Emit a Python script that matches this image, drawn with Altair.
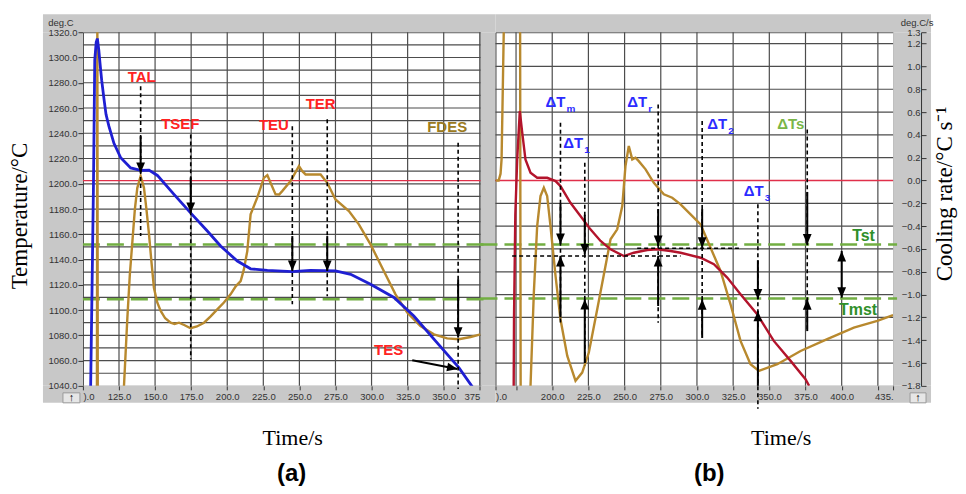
import altair as alt
import pandas as pd

# ---------------- data: panel (a) ----------------
a_temp_t = [105.3, 106.6, 107.3, 108.2, 109.2, 110.0, 111.0, 111.8, 113.0, 114.6, 116.0, 118.0,
            121.5, 126.2, 133.1, 140.0, 145.8, 151.6, 163.1, 174.6, 186.2, 195.4, 207.0, 216.2,
            227.8, 245.0, 257.7, 275.0, 285.5, 299.3, 315.5, 329.3, 345.5, 360.5, 370.0]
a_temp_v = [1035, 1140, 1198, 1298, 1312, 1315, 1306, 1296, 1282, 1267, 1255, 1245.6,
            1232, 1220.6, 1212.6, 1210.6, 1210.8, 1206.6, 1191.6, 1177, 1162.6, 1150.7, 1138.8, 1132.7,
            1131.5, 1130.4, 1131.5, 1131, 1128.3, 1120.4, 1110, 1095.3, 1074, 1054.4, 1039]

a_rate_t = [109.7, 110.0, 110.3, 127.9, 128.5, 130.8, 132.5, 134.3, 136.0, 137.7, 140.0, 142.3,
            144.0, 145.8, 147.5, 149.2, 151.5, 153.9, 157.0, 160.8, 163.5, 166.6, 170.5, 174.6,
            179.0, 183.9, 188.5, 193.1, 197.7, 202.3, 206.0, 209.3, 211.5, 213.9, 216.2, 220.8,
            225.4, 227.8, 230.0, 233.5, 236.0, 238.1, 243.9, 249.7, 252.0, 254.3, 260.0, 264.7,
            269.3, 275.0, 284.3, 291.2, 299.3, 308.5, 316.6, 324.7, 333.9, 343.2, 352.4, 360.5,
            368.6, 375.5]
a_rate_v = [1030, 1330, 1030, 1030, 1041, 1094, 1128, 1154.6, 1180, 1196.8, 1206, 1196.8,
            1180, 1160, 1138, 1117.7, 1106, 1099.3, 1093.5, 1090, 1089, 1090, 1088, 1085.6,
            1087, 1090, 1095, 1100.6, 1106, 1112.5, 1119, 1123, 1132, 1146.7, 1175.8, 1189,
            1204.7, 1206.9, 1200.8, 1191.6, 1191.5, 1194.2, 1202.1, 1214, 1210, 1207.4, 1207.4, 1207.4,
            1200.8, 1187.6, 1178.4, 1167.9, 1152, 1131, 1112.5, 1098, 1087.4, 1080.8, 1077.6, 1076.9,
            1078.7, 1080.8]

a_xticks = [100, 125, 150, 175, 200, 225, 250, 275, 300, 325, 350, 375]
a_yticks = [1040, 1060, 1080, 1100, 1120, 1140, 1160, 1180, 1200, 1220, 1240, 1260, 1280, 1300, 1320]
a_xgrid = [125, 150, 175, 200, 225, 250, 275, 300, 325, 350, 375]
a_ygrid = [1050, 1060, 1070, 1080, 1090, 1100, 1110, 1120, 1130, 1140, 1150, 1160, 1170, 1180,
           1190, 1200, 1210, 1220, 1230, 1240, 1250, 1260, 1270, 1280, 1290, 1300, 1310]
a_red_level = [1202.5]
a_green_levels = [1152, 1108.5]

a_labels = ["TAL", "TSEF", "TEU", "TER", "TES"]
a_label_t = [140.7, 167.5, 232.3, 264.7, 311.8]
a_label_v = [1284.4, 1247.5, 1246.4, 1263.3, 1068.4]
a_fdes_label = ["FDES"]
a_fdes_t = [352.4]
a_fdes_v = [1244.8]

a_mark_t = [140.0, 174.7, 245.1, 269.3, 360.0]
a_dash_top = [1277.3, 1239.1, 1245.6, 1251.0, 1232.4]
a_dash_bot = [1158.6, 1061.1, 1104.6, 1111.0, 1037.6]
a_arrow_from = [1237.7, 1205.0, 1158.6, 1158.6, 1124.3]
a_arrow_to = [1208.7, 1177.0, 1131.0, 1131.0, 1078.2]
a_tes_t = [328.2]
a_tes_t2 = [359.5]
a_tes_v = [1060.3]
a_tes_v2 = [1053.4]

# ---------------- data: panel (b) ----------------
b_rate1_t = [160.9, 163.0, 164.3, 165.0, 165.8, 166.5, 167.0, 177.8, 178.2, 184.6, 185.0, 187.3,
             189.6, 191.9, 194.2, 196.5, 198.8, 202.3, 205.7, 210.4, 216.1, 220.7, 225.3, 231.1,
             236.8, 240.3, 244.9, 248.4, 250.6, 252.9, 255.3, 257.5, 259.8, 264.5, 270.2, 277.1,
             282.9, 288.7, 295.6, 302.5, 309.4, 316.3, 323.2, 330.1, 337.0, 342.8, 355.5, 371.6,
             390.0, 408.4, 424.6, 435.5]
b_rate1_v = [0.0, 0.0, 0.06, 0.185, 0.768, 1.3, 1.5, 1.5, -2.0, -2.0, -1.8, -0.983,
             -0.399, -0.136, -0.063, -0.136, -0.399, -0.837, -1.216, -1.537, -1.756, -1.684, -1.508, -1.128,
             -0.749, -0.515, -0.428, -0.224, 0.127, 0.302, 0.185, 0.2, 0.17, 0.098, -0.02, -0.121,
             -0.151, -0.209, -0.297, -0.384, -0.589, -0.793, -1.085, -1.406, -1.61, -1.669, -1.61, -1.494,
             -1.391, -1.289, -1.231, -1.181]

b_rate2_t = [173.3, 173.6, 174.5, 175.8, 177.6, 179.3, 181.5, 185.0, 189.6, 196.5, 202.3, 205.7,
             212.6, 219.5, 226.4, 233.4, 240.3, 249.5, 256.4, 265.6, 272.5, 281.7, 288.7, 302.5,
             311.7, 320.9, 330.1, 341.6, 353.1, 364.7, 375.0, 377.5]
b_rate2_v = [-2.0, -1.2, -0.3, 0.185, 0.608, 0.418, 0.185, 0.068, 0.024, 0.024, -0.005, -0.049,
             -0.195, -0.311, -0.428, -0.53, -0.603, -0.662, -0.633, -0.609, -0.603, -0.618, -0.633, -0.677,
             -0.734, -0.851, -0.997, -1.172, -1.406, -1.581, -1.741, -1.8]

b_xticks = [160.8, 175, 200, 225, 250, 275, 300, 325, 350, 375, 400, 425, 435.5]
b_yticks = [1.3, 1.2, 1.0, 0.8, 0.6, 0.4, 0.2, 0.0, -0.2, -0.4, -0.6, -0.8, -1.0, -1.2, -1.4, -1.6, -1.8]
b_xgrid = [175, 200, 225, 250, 275, 300, 325, 350, 375, 400, 425]
b_ygrid = [1.2, 1.0, 0.8, 0.6, 0.4, 0.2, 0.0, -0.2, -0.4, -0.6, -0.8, -1.0, -1.2, -1.4, -1.6]
b_red_level = [0.0]
b_green_levels = [-0.56, -1.035]

b_delta_main = ["ΔT", "ΔT", "ΔT", "ΔT", "ΔT"]
b_delta_sub = ["m", "1", "r", "2", "3"]
b_delta_t = [195.4, 207.6, 251.8, 307.1, 332.4]
b_delta_v = [0.687, 0.331, 0.687, 0.492, -0.092]
b_dts_label = ["ΔTs"]
b_dts_t = [355.5]
b_dts_v = [0.492]
b_green_labels = ["Tst", "Tmst"]
b_green_label_t = [415.1, 411.3]
b_green_label_v = [-0.486, -1.135]

b_mark_t = [205.7, 222.5, 273.2, 303.6, 342.1, 376.2]
b_dash_top = [0.506, 0.155, 0.667, 0.521, -0.209, 0.448]
b_dash_bot = [-1.26, -1.625, -1.246, -1.377, -2.0, -1.318]
b_down_from = [-0.2, -0.3, -0.25, -0.25, -0.7, -0.1]
b_down_to = [-0.556, -0.647, -0.574, -0.589, -1.041, -0.559]
b_up_from = [-1.2, -1.6, -1.1, -1.38, -1.8, -1.32]
b_up_to = [-0.662, -1.04, -0.662, -1.041, -1.143, -1.041]
b_hdash_t = [172.3, 258.7]
b_hdash_t2 = [288.7, 329.0]
b_hdash_v = [-0.662, -0.594]
b_double_t = [400.0]
b_double_top = [-0.618]
b_double_bot = [-1.027]

# ---------------- styles ----------------
W, H = 398, 354
FRAME = "#c8c8c8"
GRID = "#4d4d4d"
BLUE = "#1f1fd2"
BROWN = "#b8892e"
DARKRED = "#b3142c"
REDLINE = "#e0304a"
GREEN = "#72ae42"
LAB_RED = "#ff2222"
LAB_BLUE = "#2b2bff"
SANS = "Liberation Sans"
SERIF = "Liberation Serif"
DOWN = "M0,0L-1.1,-2.6L1.1,-2.6Z"
UP = "M0,0L-1.1,2.6L1.1,2.6Z"
RIGHT = "M0,0L-2.6,-1.1L-2.6,1.1Z"
GDASH = [17, 7]


def one():
    return pd.DataFrame({"k": [0]})


def box(x, x2, y, y2, fill=FRAME, stroke=None):
    kw = dict(fill=fill, strokeWidth=0)
    if stroke:
        kw = dict(fill=fill, stroke=stroke, strokeWidth=1)
    return alt.Chart(one()).mark_rect(**kw).encode(
        x=alt.value(x), x2=alt.value(x2), y=alt.value(y), y2=alt.value(y2))


def label(text, x, y, size, color="black", font=SERIF, weight="normal", angle=0):
    return alt.Chart(one()).mark_text(
        text=text, fontSize=size, color=color, font=font, fontWeight=weight,
        angle=angle, align="center", baseline="middle").encode(x=alt.value(x), y=alt.value(y))


def panel(sx, sy, xaxis, yaxis):
    def X(f):
        return alt.X(f + ":Q", scale=sx, axis=xaxis)

    def Y(f):
        return alt.Y(f + ":Q", scale=sy, axis=yaxis)
    return X, Y


# ---------------- panel (a) ----------------
ax_a = alt.Axis(values=a_xticks, labelFlush=2, grid=False, domain=False, tickSize=4, tickColor="#333",
                labelFontSize=9.5, labelFont=SANS, labelColor="#333", labelPadding=2, title=None, zindex=1,
                labelExpr="datum.value == 100 ? ').0' : (datum.value == 375 ? '375' : format(datum.value, '.1f'))")
ay_a = alt.Axis(values=a_yticks, format=".1f", grid=False, domain=False, tickSize=5, tickColor="#333",
                labelFontSize=9.5, labelFont=SANS, labelColor="#333", labelPadding=1, labelFlush=False,
                title=None, zindex=1)
Xa, Ya = panel(alt.Scale(domain=[100, 375.5], nice=False, zero=False),
               alt.Scale(domain=[1040, 1320], nice=False, zero=False), ax_a, ay_a)

a_layers = [
    box(-40, 413, -18, 0), box(-40, 413, H, 371), box(-40, 0, 0, H), box(W, 413, 0, H),
    box(-20, -3, H + 7, H + 17, fill="#e6e6e6", stroke="#9a9a9a"),
    label("↑", -11.5, H + 12, 11, font=SANS, weight="bold"),
    alt.Chart(pd.DataFrame({"t": a_xgrid})).mark_rule(color=GRID, strokeWidth=1.2).encode(x=Xa("t")),
    alt.Chart(pd.DataFrame({"v": a_ygrid})).mark_rule(color=GRID, strokeWidth=1.2).encode(y=Ya("v")),
    alt.Chart(pd.DataFrame({"v": a_red_level})).mark_rule(color=REDLINE, strokeWidth=1.3).encode(y=Ya("v")),
    alt.Chart(pd.DataFrame({"v": a_green_levels})).mark_rule(color=GREEN, strokeWidth=2.5, strokeDash=GDASH).encode(
        y=Ya("v"), x=alt.value(0), x2=alt.value(408)),
    alt.Chart(pd.DataFrame({"t": a_rate_t, "v": a_rate_v})).mark_line(color=BROWN, strokeWidth=2.4, clip=True).encode(
        x=Xa("t"), y=Ya("v"), order="t:Q"),
    alt.Chart(pd.DataFrame({"t": a_temp_t, "v": a_temp_v})).mark_line(color=BLUE, strokeWidth=2.8, clip=True).encode(
        x=Xa("t"), y=Ya("v"), order="t:Q"),
    alt.Chart(pd.DataFrame({"t": a_mark_t, "v": a_dash_top, "v2": a_dash_bot})).mark_rule(
        color="black", strokeWidth=1.6, strokeDash=[4, 3]).encode(x=Xa("t"), y=Ya("v"), y2="v2:Q"),
    alt.Chart(pd.DataFrame({"t": a_mark_t, "v": a_arrow_from, "v2": a_arrow_to})).mark_rule(
        color="black", strokeWidth=2).encode(x=Xa("t"), y=Ya("v"), y2="v2:Q"),
    alt.Chart(pd.DataFrame({"t": a_mark_t, "v": a_arrow_to})).mark_point(
        shape=DOWN, filled=True, size=64, color="black", opacity=1).encode(x=Xa("t"), y=Ya("v")),
    alt.Chart(pd.DataFrame({"t": a_tes_t, "t2": a_tes_t2, "v": a_tes_v, "v2": a_tes_v2})).mark_rule(
        color="black", strokeWidth=2).encode(x=Xa("t"), x2="t2:Q", y=Ya("v"), y2="v2:Q"),
    alt.Chart(pd.DataFrame({"t": a_tes_t2, "v": a_tes_v2})).mark_point(
        shape=RIGHT, angle=11, filled=True, size=64, color="black", opacity=1).encode(x=Xa("t"), y=Ya("v")),
    alt.Chart(pd.DataFrame({"t": a_label_t, "v": a_label_v, "s": a_labels})).mark_text(
        font=SANS, fontWeight="bold", fontSize=15, color=LAB_RED).encode(x=Xa("t"), y=Ya("v"), text="s:N"),
    alt.Chart(pd.DataFrame({"t": a_fdes_t, "v": a_fdes_v, "s": a_fdes_label})).mark_text(
        font=SANS, fontWeight="bold", fontSize=15, color="#9b7a20").encode(x=Xa("t"), y=Ya("v"), text="s:N"),
    label("deg.C", -22, -9, 9.5, color="#333", font=SANS),
    label("Temperature/°C", -63, 184, 23, angle=270),
    label("Time/s", 210, 406, 22),
    label("(a)", 209, 442, 24, font=SANS, weight="bold"),
]
left = alt.layer(*a_layers).properties(width=W, height=H)

# ---------------- panel (b) ----------------
ax_b = alt.Axis(values=b_xticks, labelFlush=2, grid=False, domain=False, tickSize=4, tickColor="#333",
                labelFontSize=9.5, labelFont=SANS, labelColor="#333", labelPadding=2, title=None, zindex=1,
                labelExpr="datum.value < 170 ? ').0' : (datum.value > 430 ? '435.' : "
                          "((datum.value == 175 || datum.value == 425) ? '' : format(datum.value, '.1f')))")
ay_b = alt.Axis(values=b_yticks, format=".1f", grid=False, orient="right", offset=28, domain=True,
                domainColor="#333", tickSize=5, tickColor="#333", labelAlign="right", labelPadding=-6,
                labelFontSize=9.5, labelFont=SANS, labelColor="#333", labelFlush=False, title=None, zindex=1)
Xb, Yb = panel(alt.Scale(domain=[160.8, 435.5], nice=False, zero=False),
               alt.Scale(domain=[-1.8, 1.3], nice=False, zero=False), ax_b, ay_b)

b_layers = [
    box(0, 436, -18, 0), box(0, 436, H, 371), box(W, 436, 0, H),
    box(415, 431, H + 7, H + 17, fill="#e6e6e6", stroke="#9a9a9a"),
    label("↑", 423, H + 12, 11, font=SANS, weight="bold"),
    alt.Chart(pd.DataFrame({"t": b_xgrid})).mark_rule(color=GRID, strokeWidth=1.2).encode(x=Xb("t")),
    alt.Chart(pd.DataFrame({"v": b_ygrid})).mark_rule(color=GRID, strokeWidth=1.2).encode(y=Yb("v")),
    alt.Chart(pd.DataFrame({"v": b_red_level})).mark_rule(color=REDLINE, strokeWidth=1.3).encode(y=Yb("v")),
    alt.Chart(pd.DataFrame({"v": b_green_levels})).mark_rule(color=GREEN, strokeWidth=2.5, strokeDash=GDASH).encode(
        y=Yb("v"), x=alt.value(-15), x2=alt.value(402)),
    alt.Chart(pd.DataFrame({"t": b_rate1_t, "v": b_rate1_v})).mark_line(color=BROWN, strokeWidth=2.4, clip=True).encode(
        x=Xb("t"), y=Yb("v"), order="t:Q"),
    alt.Chart(pd.DataFrame({"t": b_rate2_t, "v": b_rate2_v})).mark_line(color=DARKRED, strokeWidth=2.4, clip=True).encode(
        x=Xb("t"), y=Yb("v"), order="t:Q"),
    alt.Chart(pd.DataFrame({"t": b_hdash_t, "t2": b_hdash_t2, "v": b_hdash_v})).mark_rule(
        color="black", strokeWidth=1.6, strokeDash=[4, 3]).encode(x=Xb("t"), x2="t2:Q", y=Yb("v")),
    alt.Chart(pd.DataFrame({"t": b_mark_t, "v": b_dash_top, "v2": b_dash_bot})).mark_rule(
        color="black", strokeWidth=1.6, strokeDash=[4, 3]).encode(x=Xb("t"), y=Yb("v"), y2="v2:Q"),
    alt.Chart(pd.DataFrame({"t": b_mark_t, "v": b_down_from, "v2": b_down_to})).mark_rule(
        color="black", strokeWidth=2).encode(x=Xb("t"), y=Yb("v"), y2="v2:Q"),
    alt.Chart(pd.DataFrame({"t": b_mark_t, "v": b_up_from, "v2": b_up_to})).mark_rule(
        color="black", strokeWidth=2).encode(x=Xb("t"), y=Yb("v"), y2="v2:Q"),
    alt.Chart(pd.DataFrame({"t": b_mark_t, "v": b_down_to})).mark_point(
        shape=DOWN, filled=True, size=64, color="black", opacity=1).encode(x=Xb("t"), y=Yb("v")),
    alt.Chart(pd.DataFrame({"t": b_mark_t, "v": b_up_to})).mark_point(
        shape=UP, filled=True, size=64, color="black", opacity=1).encode(x=Xb("t"), y=Yb("v")),
    alt.Chart(pd.DataFrame({"t": b_double_t, "v": b_double_top, "v2": b_double_bot})).mark_rule(
        color="black", strokeWidth=2).encode(x=Xb("t"), y=Yb("v"), y2="v2:Q"),
    alt.Chart(pd.DataFrame({"t": b_double_t, "v": b_double_top})).mark_point(
        shape=UP, filled=True, size=64, color="black", opacity=1).encode(x=Xb("t"), y=Yb("v")),
    alt.Chart(pd.DataFrame({"t": b_double_t, "v": b_double_bot})).mark_point(
        shape=DOWN, filled=True, size=64, color="black", opacity=1).encode(x=Xb("t"), y=Yb("v")),
    alt.Chart(pd.DataFrame({"t": b_delta_t, "v": b_delta_v, "s": b_delta_main})).mark_text(
        font=SANS, fontWeight="bold", fontSize=15, color=LAB_BLUE, align="left").encode(
        x=Xb("t"), y=Yb("v"), text="s:N"),
    alt.Chart(pd.DataFrame({"t": b_delta_t, "v": b_delta_v, "s": b_delta_sub})).mark_text(
        font=SANS, fontWeight="bold", fontSize=10, color=LAB_BLUE, align="left", dx=21, dy=7).encode(
        x=Xb("t"), y=Yb("v"), text="s:N"),
    alt.Chart(pd.DataFrame({"t": b_dts_t, "v": b_dts_v, "s": b_dts_label})).mark_text(
        font=SANS, fontWeight="bold", fontSize=15, color="#7ab648", align="left").encode(
        x=Xb("t"), y=Yb("v"), text="s:N"),
    alt.Chart(pd.DataFrame({"t": b_green_label_t, "v": b_green_label_v, "s": b_green_labels})).mark_text(
        font=SANS, fontWeight="bold", fontSize=16, color="#2f8f2a").encode(x=Xb("t"), y=Yb("v"), text="s:N"),
    label("deg.C/s", 422, -9, 9.5, color="#333", font=SANS),
    label("Cooling rate/°C s⁻¹", 450, 162, 23, angle=270),
    label("Time/s", 286, 406, 22),
    label("(b)", 214, 442, 24, font=SANS, weight="bold"),
]
right = alt.layer(*b_layers).properties(width=W, height=H)

chart = alt.hconcat(left, right, spacing=15, bounds="flush").properties(
    padding={"left": 0, "top": 5, "right": 0, "bottom": 0}
).configure_view(stroke="#444", strokeWidth=1)

chart.save("out.html", embed_options={"renderer": "svg", "actions": False})
